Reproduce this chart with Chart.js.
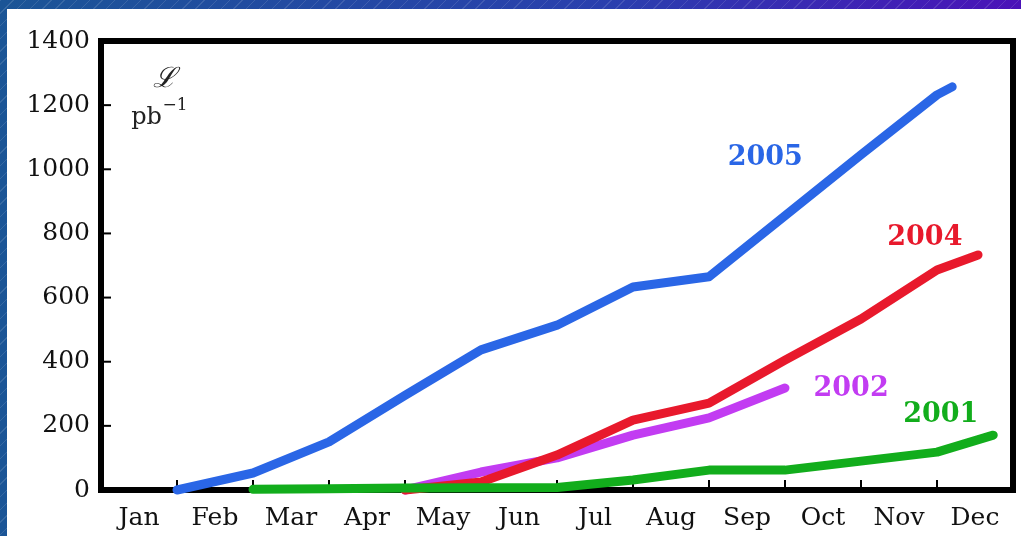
<!DOCTYPE html>
<html>
<head>
<meta charset="utf-8">
<script src="https://cdn.jsdelivr.net/npm/chart.js@4"></script>
<style>
  html, body { margin: 0; padding: 0; }
  body {
    width: 1021px; height: 536px; overflow: hidden; position: relative;
    background:
      repeating-linear-gradient(135deg, rgba(255,255,255,0.12) 0 1px, transparent 1px 9px),
      linear-gradient(90deg, #1b5596 0%, #2a3fae 60%, #4a12b8 100%);
  }
  #paper { position: absolute; left: 7px; top: 9px; right: 0; bottom: 0; background: #fff; }
  #chart { position: absolute; left: 0; top: 0; }
</style>
</head>
<body>
<div id="paper"></div>
<canvas id="chart" width="1021" height="536"></canvas>
<script>
// months on the x axis (0 = Jan 1, 12 = Dec 31)
const months = ["Jan", "Feb", "Mar", "Apr", "May", "Jun", "Jul", "Aug", "Sep", "Oct", "Nov", "Dec"];
const yTicks = [0, 200, 400, 600, 800, 1000, 1200, 1400];

// integrated luminosity, pb^-1
const x2005 = [1, 2, 3, 4, 5, 6, 7, 8, 9, 10, 11, 11.2];
const v2005 = [0, 53, 150, 295, 437, 514, 633, 665, 855, 1045, 1232, 1257];

const x2004 = [4, 5, 6, 7, 8, 9, 10, 11, 11.54];
const v2004 = [0, 25, 109, 218, 271, 405, 533, 686, 733];

const x2002 = [4, 5, 6, 7, 8, 9];
const v2002 = [0, 56, 100, 171, 225, 318];

const x2001 = [2, 3, 4, 5, 6, 7, 8, 9, 10, 11, 11.74];
const v2001 = [2, 4, 6, 7, 8, 31, 62, 62, 90, 118, 171];

const pts = (xs, vs) => xs.map((x, i) => ({ x: x, y: vs[i] }));

const serif = "'DejaVu Serif', 'Liberation Serif', serif";

// year labels next to the curves, in data coordinates
const yearLabels = [
    { text: "2005", x: 8.74, y: 1035, color: "#2a66e6" },
    { text: "2004", x: 10.84, y: 786, color: "#e8192c" },
    { text: "2002", x: 9.87, y: 315, color: "#c23cf2" },
    { text: "2001", x: 11.05, y: 234, color: "#12ad1c" }
];

const framePlugin = {
    id: "frame",
    beforeDatasetsDraw(chart) {
        const { ctx, chartArea: a, scales } = chart;
        ctx.save();
        ctx.strokeStyle = "#000";
        ctx.lineWidth = 2;
        // inward tick marks
        for (let m = 1; m < 12; m++) {
            const px = scales.x.getPixelForValue(m);
            ctx.beginPath();
            ctx.moveTo(px, a.bottom);
            ctx.lineTo(px, a.bottom - 10);
            ctx.stroke();
        }
        for (const v of yTicks.slice(1, -1)) {
            const py = scales.y.getPixelForValue(v);
            ctx.beginPath();
            ctx.moveTo(a.left, py);
            ctx.lineTo(a.left + 10, py);
            ctx.stroke();
        }
        ctx.lineWidth = 6;
        ctx.strokeRect(a.left, a.top, a.right - a.left, a.bottom - a.top);
        ctx.restore();
    },
    afterDatasetsDraw(chart) {
        const { ctx, scales } = chart;
        ctx.save();
        ctx.textAlign = "center";
        ctx.textBaseline = "middle";
        ctx.font = "bold 27px " + serif;
        for (const l of yearLabels) {
            ctx.fillStyle = l.color;
            ctx.fillText(l.text, scales.x.getPixelForValue(l.x), scales.y.getPixelForValue(l.y));
        }
        // axis unit
        ctx.fillStyle = "#222";
        ctx.font = "italic 28px " + serif;
        ctx.fillText("\u2112", scales.x.getPixelForValue(0.84), scales.y.getPixelForValue(1278));
        ctx.font = "24px " + serif;
        const ux = scales.x.getPixelForValue(0.6), uy = scales.y.getPixelForValue(1160);
        ctx.fillText("pb", ux, uy);
        ctx.font = "17px " + serif;
        ctx.textAlign = "left";
        ctx.fillText("\u22121", ux + 16, uy - 12);
        ctx.restore();
    }
};

const line = (data, color) => ({
    data: data,
    borderColor: color,
    borderWidth: 9,
    borderCapStyle: "round",
    borderJoinStyle: "round",
    pointRadius: 0,
    tension: 0,
    clip: false
});

new Chart(document.getElementById("chart"), {
    type: "line",
    data: {
        datasets: [
            line(pts(x2001, v2001), "#12ad1c"),
            line(pts(x2004, v2004), "#e8192c"),
            line(pts(x2002, v2002), "#c23cf2"),
            line(pts(x2005, v2005), "#2a66e6")
        ]
    },
    options: {
        responsive: false,
        animation: false,
        layout: { padding: { top: 41, right: 8, left: 0, bottom: 0 } },
        plugins: { legend: { display: false }, tooltip: { enabled: false } },
        scales: {
            x: {
                type: "linear",
                min: 0,
                max: 12,
                grid: { display: false, drawTicks: false },
                border: { display: false },
                afterBuildTicks(scale) {
                    scale.ticks = months.map((m, i) => ({ value: i + 0.5 }));
                },
                afterFit(scale) { scale.height = 46; },
                ticks: {
                    autoSkip: false,
                    maxRotation: 0,
                    padding: 13,
                    color: "#111",
                    font: { family: serif, size: 25 },
                    callback: (v) => months[Math.floor(v)]
                }
            },
            y: {
                min: 0,
                max: 1400,
                grid: { display: false, drawTicks: false },
                border: { display: false },
                afterBuildTicks(scale) {
                    scale.ticks = yTicks.map(v => ({ value: v }));
                },
                afterFit(scale) { scale.width = 101; },
                ticks: {
                    padding: 11,
                    color: "#111",
                    font: { family: serif, size: 25 },
                    callback: (v) => String(v)
                }
            }
        }
    },
    plugins: [framePlugin]
});
</script>
</body>
</html>
